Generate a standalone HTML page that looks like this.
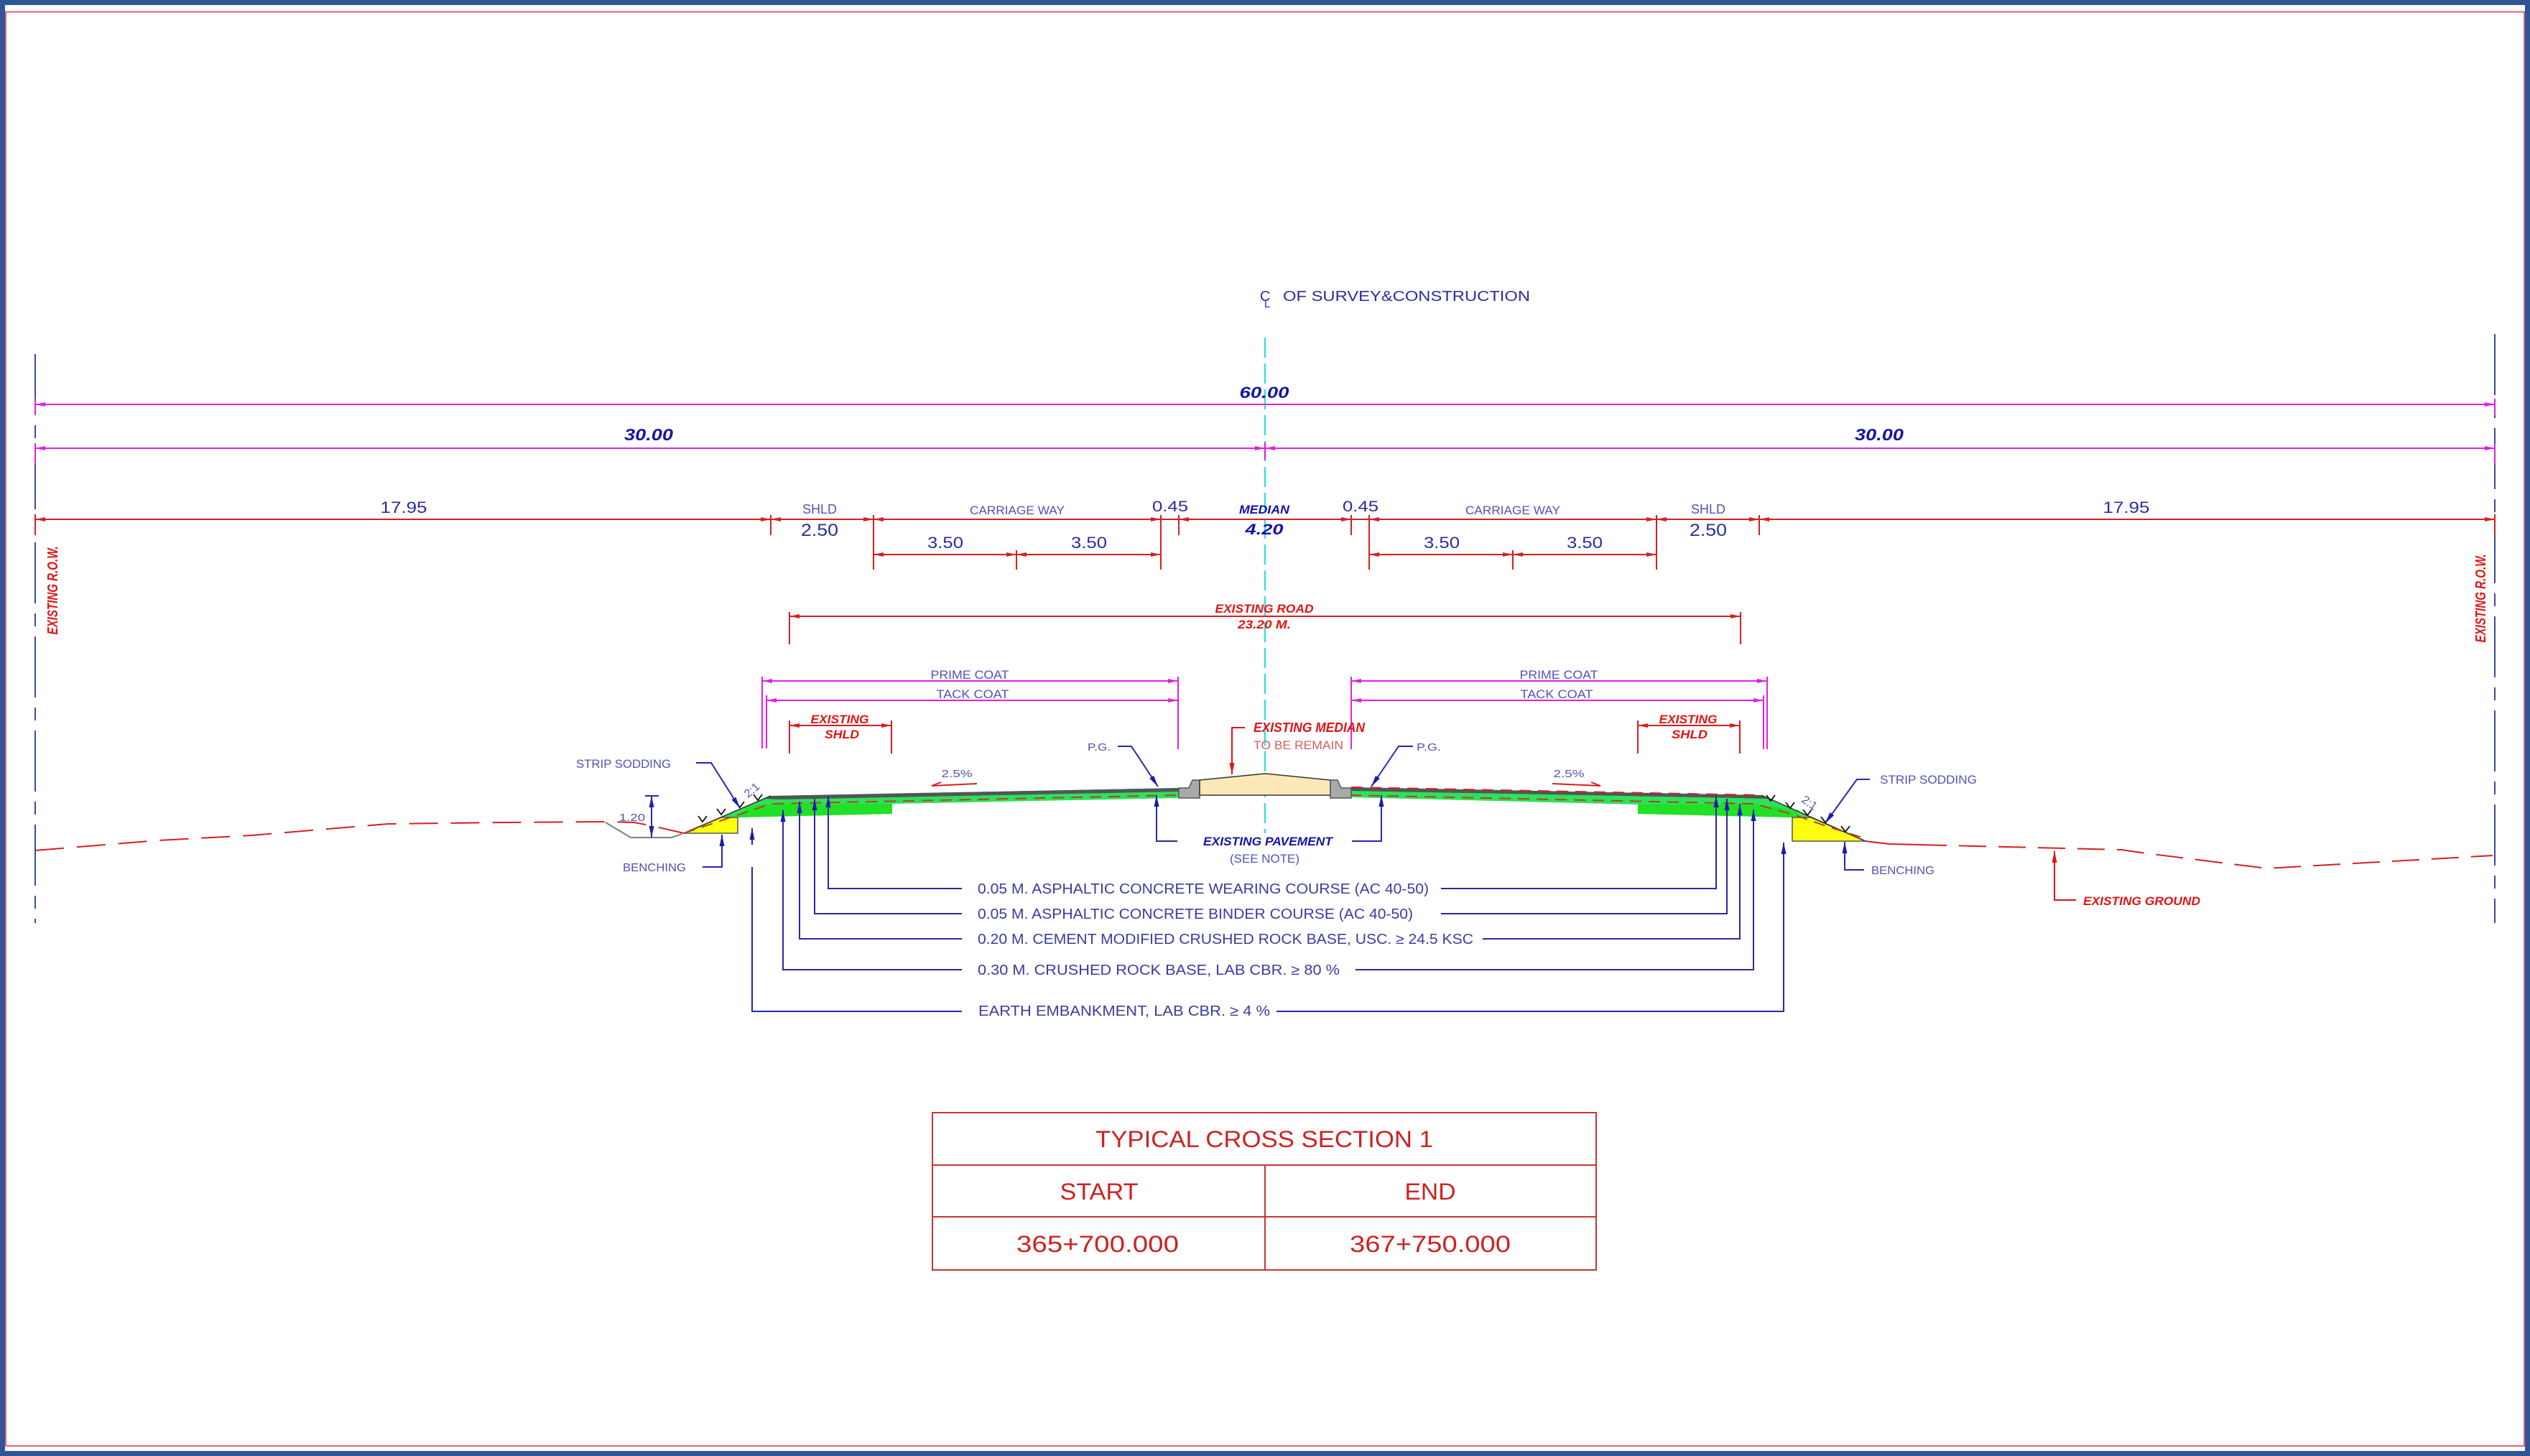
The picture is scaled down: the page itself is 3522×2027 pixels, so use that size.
<!DOCTYPE html>
<html><head><meta charset="utf-8">
<style>
html,body{margin:0;padding:0;background:#fff;}
svg{display:block}
text{font-family:"Liberation Sans",sans-serif;}
.bl{fill:#2b2b9e}
.lb{fill:#5252b2}
.bi{fill:#1414a8;font-weight:bold;font-style:italic}
.ri{fill:#e01414;font-weight:bold;font-style:italic}
.lay{fill:#3b3ba0}
.tb{fill:#cc2222}
</style></head>
<body>
<svg width="3522" height="2027" viewBox="0 0 3522 2027" xmlns="http://www.w3.org/2000/svg">
<defs>
<marker id="ar" viewBox="0 0 14 6" refX="14" refY="3" markerWidth="14" markerHeight="6" markerUnits="userSpaceOnUse" orient="auto-start-reverse"><path d="M0,0L14,3L0,6z" fill="#d42020"/></marker>
<marker id="am" viewBox="0 0 14 6" refX="14" refY="3" markerWidth="14" markerHeight="6" markerUnits="userSpaceOnUse" orient="auto-start-reverse"><path d="M0,0L14,3L0,6z" fill="#e020e0"/></marker>
<marker id="ab" viewBox="0 0 16 7" refX="16" refY="3.5" markerWidth="16" markerHeight="7" markerUnits="userSpaceOnUse" orient="auto-start-reverse"><path d="M0,0L16,3.5L0,7z" fill="#1a1ab0"/></marker>
<marker id="arr" viewBox="0 0 16 7" refX="16" refY="3.5" markerWidth="16" markerHeight="7" markerUnits="userSpaceOnUse" orient="auto-start-reverse"><path d="M0,0L16,3.5L0,7z" fill="#e01414"/></marker>
</defs>

<!-- frame -->
<rect x="0" y="0" width="3522" height="2027" fill="#fff"/>
<rect x="3.5" y="3.5" width="3515" height="2020" fill="none" stroke="#2f5597" stroke-width="7"/>
<polyline points="8,2013 8,16.5 3514,16.5 3514,2013 8,2013" fill="none" stroke="#e0607a" stroke-width="2"/>

<!-- centerline -->
<line x1="1761" y1="470" x2="1761" y2="1160" stroke="#3fdede" stroke-width="2.5" stroke-dasharray="28 8"/>
<text x="1754" y="419" font-size="20" class="bl">C</text>
<text x="1760" y="428" font-size="15" class="bl">L</text>
<text x="1786" y="419" font-size="20" class="bl" textLength="344" lengthAdjust="spacingAndGlyphs">OF SURVEY&amp;CONSTRUCTION</text>

<!-- ROW lines -->
<line x1="49" y1="493" x2="49" y2="1285" stroke="#3a4aa0" stroke-width="2" stroke-dasharray="85 14 18 14"/>
<line x1="3473" y1="465" x2="3473" y2="1285" stroke="#3a4aa0" stroke-width="2" stroke-dasharray="85 14 18 14"/>
<text transform="translate(80,822) rotate(-90)" font-size="20" class="ri" text-anchor="middle" textLength="123" lengthAdjust="spacingAndGlyphs">EXISTING R.O.W.</text>
<text transform="translate(3460,833) rotate(-90)" font-size="20" class="ri" text-anchor="middle" textLength="123" lengthAdjust="spacingAndGlyphs">EXISTING R.O.W.</text>

<!-- magenta dims -->
<g stroke="#e020e0" stroke-width="2" fill="none">
<line x1="49" y1="563" x2="3473" y2="563" marker-start="url(#am)" marker-end="url(#am)"/>
<line x1="49" y1="624" x2="1761" y2="624" marker-start="url(#am)" marker-end="url(#am)"/>
<line x1="1761" y1="624" x2="3473" y2="624" marker-start="url(#am)" marker-end="url(#am)"/>
<line x1="1761" y1="616" x2="1761" y2="640"/>
<line x1="49" y1="555" x2="49" y2="578"/><line x1="49" y1="617" x2="49" y2="647"/>
<line x1="3473" y1="555" x2="3473" y2="578"/><line x1="3473" y1="617" x2="3473" y2="647"/>
<!-- prime / tack -->
<line x1="1061" y1="948" x2="1640" y2="948" marker-start="url(#am)" marker-end="url(#am)"/>
<line x1="1067" y1="975" x2="1640" y2="975" marker-start="url(#am)" marker-end="url(#am)"/>
<line x1="1881" y1="948" x2="2460" y2="948" marker-start="url(#am)" marker-end="url(#am)"/>
<line x1="1881" y1="975" x2="2455" y2="975" marker-start="url(#am)" marker-end="url(#am)"/>
<line x1="1061" y1="942" x2="1061" y2="1042"/>
<line x1="1067" y1="968" x2="1067" y2="1042"/>
<line x1="1640" y1="942" x2="1640" y2="1043"/>
<line x1="1881" y1="942" x2="1881" y2="1043"/>
<line x1="2455" y1="968" x2="2455" y2="1043"/>
<line x1="2460" y1="942" x2="2460" y2="1043"/>
</g>
<text x="1760" y="554" font-size="22" class="bi" text-anchor="middle" textLength="69" lengthAdjust="spacingAndGlyphs">60.00</text>
<text x="903" y="613" font-size="23" class="bi" text-anchor="middle" textLength="68" lengthAdjust="spacingAndGlyphs">30.00</text>
<text x="2616" y="613" font-size="23" class="bi" text-anchor="middle" textLength="68" lengthAdjust="spacingAndGlyphs">30.00</text>

<!-- red dims row 723 -->
<g stroke="#d42020" stroke-width="2" fill="none">
<line x1="49" y1="723" x2="1073" y2="723" marker-start="url(#ar)" marker-end="url(#ar)"/>
<line x1="1073" y1="723" x2="1216" y2="723" marker-start="url(#ar)" marker-end="url(#ar)"/>
<line x1="1216" y1="723" x2="1616" y2="723" marker-start="url(#ar)" marker-end="url(#ar)"/>
<line x1="1616" y1="723" x2="1641" y2="723"/>
<line x1="1641" y1="723" x2="1881" y2="723" marker-start="url(#ar)" marker-end="url(#ar)"/>
<line x1="1881" y1="723" x2="1906" y2="723"/>
<line x1="1906" y1="723" x2="2306" y2="723" marker-start="url(#ar)" marker-end="url(#ar)"/>
<line x1="2306" y1="723" x2="2449" y2="723" marker-start="url(#ar)" marker-end="url(#ar)"/>
<line x1="2449" y1="723" x2="3473" y2="723" marker-start="url(#ar)" marker-end="url(#ar)"/>
<line x1="1073" y1="717" x2="1073" y2="745"/>
<line x1="1216" y1="717" x2="1216" y2="793"/>
<line x1="1616" y1="717" x2="1616" y2="793"/>
<line x1="1641" y1="717" x2="1641" y2="745"/>
<line x1="1881" y1="717" x2="1881" y2="745"/>
<line x1="1906" y1="717" x2="1906" y2="793"/>
<line x1="2306" y1="717" x2="2306" y2="793"/>
<line x1="2449" y1="717" x2="2449" y2="745"/>
<line x1="49" y1="716" x2="49" y2="745"/>
<line x1="3473" y1="716" x2="3473" y2="745"/>
<!-- row 772 -->
<line x1="1216" y1="772" x2="1415" y2="772" marker-start="url(#ar)" marker-end="url(#ar)"/>
<line x1="1415" y1="772" x2="1616" y2="772" marker-start="url(#ar)" marker-end="url(#ar)"/>
<line x1="1906" y1="772" x2="2106" y2="772" marker-start="url(#ar)" marker-end="url(#ar)"/>
<line x1="2106" y1="772" x2="2306" y2="772" marker-start="url(#ar)" marker-end="url(#ar)"/>
<line x1="1415" y1="766" x2="1415" y2="793"/>
<line x1="2106" y1="766" x2="2106" y2="793"/>
<!-- existing road -->
<line x1="1099" y1="858" x2="2423" y2="858" marker-start="url(#ar)" marker-end="url(#ar)"/>
<line x1="1099" y1="852" x2="1099" y2="897"/>
<line x1="2423" y1="852" x2="2423" y2="897"/>
<!-- existing shld -->
<line x1="1099" y1="1010" x2="1241" y2="1010" marker-start="url(#ar)" marker-end="url(#ar)"/>
<line x1="1099" y1="1003" x2="1099" y2="1049"/>
<line x1="1241" y1="1003" x2="1241" y2="1049"/>
<line x1="2280" y1="1010" x2="2422" y2="1010" marker-start="url(#ar)" marker-end="url(#ar)"/>
<line x1="2280" y1="1003" x2="2280" y2="1049"/>
<line x1="2422" y1="1003" x2="2422" y2="1049"/>
</g>

<text x="562" y="714" font-size="22" class="bl" text-anchor="middle" textLength="65" lengthAdjust="spacingAndGlyphs">17.95</text>
<text x="2960" y="714" font-size="22" class="bl" text-anchor="middle" textLength="65" lengthAdjust="spacingAndGlyphs">17.95</text>
<text x="1141" y="715" font-size="18" class="lb" text-anchor="middle" textLength="48" lengthAdjust="spacingAndGlyphs">SHLD</text>
<text x="2378" y="715" font-size="18" class="lb" text-anchor="middle" textLength="48" lengthAdjust="spacingAndGlyphs">SHLD</text>
<text x="1141" y="746" font-size="24" class="bl" text-anchor="middle" textLength="52" lengthAdjust="spacingAndGlyphs">2.50</text>
<text x="2378" y="746" font-size="24" class="bl" text-anchor="middle" textLength="52" lengthAdjust="spacingAndGlyphs">2.50</text>
<text x="1416" y="716" font-size="17" class="lb" text-anchor="middle" textLength="132" lengthAdjust="spacingAndGlyphs">CARRIAGE WAY</text>
<text x="2106" y="716" font-size="17" class="lb" text-anchor="middle" textLength="132" lengthAdjust="spacingAndGlyphs">CARRIAGE WAY</text>
<text x="1316" y="763" font-size="22" class="bl" text-anchor="middle" textLength="50" lengthAdjust="spacingAndGlyphs">3.50</text>
<text x="1516" y="763" font-size="22" class="bl" text-anchor="middle" textLength="50" lengthAdjust="spacingAndGlyphs">3.50</text>
<text x="2007" y="763" font-size="22" class="bl" text-anchor="middle" textLength="50" lengthAdjust="spacingAndGlyphs">3.50</text>
<text x="2206" y="763" font-size="22" class="bl" text-anchor="middle" textLength="50" lengthAdjust="spacingAndGlyphs">3.50</text>
<text x="1629" y="712" font-size="21" class="bl" text-anchor="middle" textLength="50" lengthAdjust="spacingAndGlyphs">0.45</text>
<text x="1894" y="712" font-size="21" class="bl" text-anchor="middle" textLength="50" lengthAdjust="spacingAndGlyphs">0.45</text>
<text x="1760" y="715" font-size="17" class="bi" text-anchor="middle" textLength="70" lengthAdjust="spacingAndGlyphs">MEDIAN</text>
<text x="1760" y="744" font-size="21" class="bi" text-anchor="middle" textLength="53" lengthAdjust="spacingAndGlyphs">4.20</text>

<text x="1760" y="853" font-size="17" class="ri" text-anchor="middle" textLength="137" lengthAdjust="spacingAndGlyphs">EXISTING ROAD</text>
<text x="1760" y="875" font-size="17" class="ri" text-anchor="middle" textLength="74" lengthAdjust="spacingAndGlyphs">23.20 M.</text>

<text x="1350" y="945" font-size="17" class="lb" text-anchor="middle" textLength="109" lengthAdjust="spacingAndGlyphs">PRIME COAT</text>
<text x="1354" y="972" font-size="17" class="lb" text-anchor="middle" textLength="101" lengthAdjust="spacingAndGlyphs">TACK COAT</text>
<text x="2170" y="945" font-size="17" class="lb" text-anchor="middle" textLength="109" lengthAdjust="spacingAndGlyphs">PRIME COAT</text>
<text x="2167" y="972" font-size="17" class="lb" text-anchor="middle" textLength="101" lengthAdjust="spacingAndGlyphs">TACK COAT</text>

<text x="1169" y="1007" font-size="17" class="ri" text-anchor="middle" textLength="81" lengthAdjust="spacingAndGlyphs">EXISTING</text>
<text x="1172" y="1028" font-size="17" class="ri" text-anchor="middle" textLength="48" lengthAdjust="spacingAndGlyphs">SHLD</text>
<text x="2350" y="1007" font-size="17" class="ri" text-anchor="middle" textLength="81" lengthAdjust="spacingAndGlyphs">EXISTING</text>
<text x="2352" y="1028" font-size="17" class="ri" text-anchor="middle" textLength="50" lengthAdjust="spacingAndGlyphs">SHLD</text>

<!-- ground lines -->
<polyline points="49,1184 220,1170 350,1163 540,1147 700,1145 843,1144 883,1145 909,1150 952,1160" fill="none" stroke="#d42020" stroke-width="2" stroke-dasharray="40 18"/>
<polyline points="843,1145 878,1166 935,1166 949,1161" fill="none" stroke="#808080" stroke-width="2"/>
<polyline points="2597,1171 2630,1175 2672,1176" fill="none" stroke="#d42020" stroke-width="2"/>
<polyline points="2672,1176 2953,1183 2988,1188 3156,1209 3260,1203 3470,1191" fill="none" stroke="#d42020" stroke-width="2" stroke-dasharray="38 17"/>

<!-- left pavement -->
<polygon points="1004,1138 1073,1108 1641,1097 1641,1111 1242,1119 1242,1133 1027,1138" fill="#2ee05a"/>
<polygon points="1242,1119 1242,1133 1027,1138 1040,1122 1073,1119" fill="#22e025"/>
<polygon points="1066,1112 1073,1108 1641,1097 1641,1102 1085,1113" fill="#4e5858"/>
<polygon points="952,1160 1027,1160 1027,1138 1004,1138" fill="#ffff10" stroke="#555" stroke-width="1.5"/>
<line x1="952" y1="1160" x2="1073" y2="1108" stroke="#333" stroke-width="1.5"/>
<polyline points="952,1160 1073,1119 1641,1107" fill="none" stroke="#b0452a" stroke-width="2" stroke-dasharray="16 10"/>

<!-- right pavement -->
<polygon points="1881,1096 2452,1107 2521,1138 2495,1138 2280,1133 2280,1120 1881,1110" fill="#2ee05a"/>
<polygon points="2280,1120 2280,1133 2495,1138 2505,1128 2440,1119" fill="#22e025"/>
<polygon points="1881,1096 2452,1107 2462,1112 2420,1111 1881,1101" fill="#4e5858"/>
<polyline points="1881,1096 2452,1107" fill="none" stroke="#d42020" stroke-width="2" stroke-dasharray="16 10"/>
<polygon points="2495,1138 2521,1138 2597,1171 2495,1171" fill="#ffff10" stroke="#555" stroke-width="1.5"/>
<line x1="2452" y1="1107" x2="2597" y2="1171" stroke="#333" stroke-width="1.5"/>
<path d="M2590,1165 Q2540,1150 2500,1135 L2442,1119 L1881,1107" fill="none" stroke="#b0452a" stroke-width="2" stroke-dasharray="16 10"/>

<!-- median -->
<polygon points="1641,1097 1655,1097 1660,1086 1670,1086 1670,1111 1641,1111" fill="#a9a9a9" stroke="#555" stroke-width="1.5"/>
<polygon points="1670,1086 1761,1077 1852,1086 1852,1107 1670,1107" fill="#fde9b8" stroke="#333" stroke-width="1.5"/>
<polygon points="1852,1086 1862,1086 1867,1097 1881,1097 1881,1111 1852,1111" fill="#a9a9a9" stroke="#555" stroke-width="1.5"/>

<!-- sodding chevrons -->
<g stroke="#111" stroke-width="1.8" fill="none">
<path d="M972,1136 L978,1144 L984,1136"/>
<path d="M998,1126 L1004,1134 L1010,1126"/>
<path d="M1024,1116 L1030,1124 L1036,1116"/>
<path d="M1049,1106 L1055,1114 L1061,1106"/>
<path d="M2459,1107 L2465,1115 L2471,1107"/>
<path d="M2486,1117 L2492,1125 L2498,1117"/>
<path d="M2510,1127 L2516,1135 L2522,1127"/>
<path d="M2535,1137 L2541,1145 L2547,1137"/>
<path d="M2563,1150 L2569,1158 L2575,1150"/>
</g>

<!-- blue leaders -->
<g stroke="#2828a8" stroke-width="2" fill="none">
<polyline points="1153,1108 1153,1237 1339,1237" marker-start="url(#ab)"/>
<polyline points="1134,1112 1134,1272 1339,1272" marker-start="url(#ab)"/>
<polyline points="1113,1116 1113,1307 1339,1307" marker-start="url(#ab)"/>
<polyline points="1090,1128 1090,1350 1339,1350" marker-start="url(#ab)"/>
<line x1="1047" y1="1176" x2="1047" y2="1153" marker-end="url(#ab)"/>
<polyline points="1047,1207 1047,1408 1339,1408"/>
<polyline points="2389,1108 2389,1237 2006,1237" marker-start="url(#ab)"/>
<polyline points="2404,1112 2404,1272 2006,1272" marker-start="url(#ab)"/>
<polyline points="2422,1119 2422,1307 2064,1307" marker-start="url(#ab)"/>
<polyline points="2441,1127 2441,1350 1887,1350" marker-start="url(#ab)"/>
<polyline points="2483,1173 2483,1408 1777,1408" marker-start="url(#ab)"/>
<!-- existing pavement -->
<polyline points="1639,1171 1610,1171 1610,1107" marker-end="url(#ab)"/>
<polyline points="1882,1171 1923,1171 1923,1107" marker-end="url(#ab)"/>
<!-- PG -->
<polyline points="1556,1039 1575,1039 1612,1095" marker-end="url(#ab)"/>
<polyline points="1967,1039 1947,1039 1909,1095" marker-end="url(#ab)"/>
<!-- strip sodding -->
<polyline points="969,1062 990,1062 1030,1125" marker-end="url(#ab)"/>
<polyline points="2603,1085 2585,1085 2541,1146" marker-end="url(#ab)"/>
<!-- benching -->
<polyline points="978,1207 1005,1207 1005,1162" marker-end="url(#ab)"/>
<polyline points="2595,1211 2568,1211 2568,1172" marker-end="url(#ab)"/>
<!-- 1.20 -->
<line x1="907" y1="1124" x2="907" y2="1108" marker-end="url(#ab)"/>
<line x1="907" y1="1150" x2="907" y2="1166" marker-end="url(#ab)"/>
<line x1="907" y1="1108" x2="907" y2="1166"/>
<line x1="898" y1="1108" x2="917" y2="1108"/>
</g>
<!-- slope arrows 2.5% -->
<g stroke="#d42020" stroke-width="2" fill="none">
<line x1="1360" y1="1091" x2="1297" y2="1094"/>
<path d="M1297,1094 L1310,1089"/>
<line x1="2161" y1="1091" x2="2228" y2="1094"/>
<path d="M2228,1094 L2215,1089"/>
</g>
<text x="1332" y="1082" font-size="15" class="lb" text-anchor="middle" textLength="43" lengthAdjust="spacingAndGlyphs">2.5%</text>
<text x="2184" y="1082" font-size="15" class="lb" text-anchor="middle" textLength="43" lengthAdjust="spacingAndGlyphs">2.5%</text>

<!-- red median leader -->
<polyline points="1733,1013 1715,1013 1715,1078" fill="none" stroke="#e01414" stroke-width="2" marker-end="url(#arr)"/>
<text x="1745" y="1019" font-size="18" class="ri" textLength="155" lengthAdjust="spacingAndGlyphs">EXISTING MEDIAN</text>
<text x="1745" y="1043" font-size="17" fill="#d06060" textLength="125" lengthAdjust="spacingAndGlyphs">TO BE REMAIN</text>

<text x="1675" y="1177" font-size="17" class="bi" textLength="180" lengthAdjust="spacingAndGlyphs">EXISTING PAVEMENT</text>
<text x="1712" y="1201" font-size="17" class="lb" textLength="97" lengthAdjust="spacingAndGlyphs">(SEE NOTE)</text>

<text x="1514" y="1045" font-size="15" class="lb" textLength="32" lengthAdjust="spacingAndGlyphs">P.G.</text>
<text x="1972" y="1045" font-size="15" class="lb" textLength="34" lengthAdjust="spacingAndGlyphs">P.G.</text>

<text x="802" y="1069" font-size="17" class="lb" textLength="132" lengthAdjust="spacingAndGlyphs">STRIP SODDING</text>
<text x="2617" y="1091" font-size="17" class="lb" textLength="135" lengthAdjust="spacingAndGlyphs">STRIP SODDING</text>
<text x="867" y="1213" font-size="16" class="lb" textLength="88" lengthAdjust="spacingAndGlyphs">BENCHING</text>
<text x="2605" y="1217" font-size="16" class="lb" textLength="88" lengthAdjust="spacingAndGlyphs">BENCHING</text>
<text x="862" y="1143" font-size="15" class="lb" textLength="36" lengthAdjust="spacingAndGlyphs">1.20</text>
<text transform="translate(1050,1104) rotate(-40)" font-size="16" class="lb" text-anchor="middle">2:1</text>
<text transform="translate(2516,1122) rotate(35)" font-size="16" class="lb" text-anchor="middle">2:1</text>

<!-- existing ground -->
<polyline points="2890,1253 2860,1253 2860,1185" fill="none" stroke="#e01414" stroke-width="2" marker-end="url(#arr)"/>
<text x="2900" y="1260" font-size="17" class="ri" textLength="163" lengthAdjust="spacingAndGlyphs">EXISTING GROUND</text>

<!-- layer labels -->
<text x="1361" y="1244" font-size="20" class="lay" textLength="628" lengthAdjust="spacingAndGlyphs">0.05 M. ASPHALTIC CONCRETE WEARING COURSE (AC 40-50)</text>
<text x="1361" y="1279" font-size="20" class="lay" textLength="606" lengthAdjust="spacingAndGlyphs">0.05 M. ASPHALTIC CONCRETE BINDER COURSE (AC 40-50)</text>
<text x="1361" y="1314" font-size="20" class="lay" textLength="690" lengthAdjust="spacingAndGlyphs">0.20 M. CEMENT MODIFIED CRUSHED ROCK BASE, USC. ≥ 24.5 KSC</text>
<text x="1361" y="1357" font-size="20" class="lay" textLength="504" lengthAdjust="spacingAndGlyphs">0.30 M. CRUSHED ROCK BASE,  LAB CBR. ≥ 80 %</text>
<text x="1362" y="1414" font-size="20" class="lay" textLength="406" lengthAdjust="spacingAndGlyphs">EARTH EMBANKMENT,  LAB CBR. ≥ 4 %</text>

<!-- table -->
<g stroke="#cc3333" stroke-width="2" fill="none">
<rect x="1298" y="1549" width="924" height="219"/>
<line x1="1298" y1="1622" x2="2222" y2="1622"/>
<line x1="1298" y1="1694" x2="2222" y2="1694"/>
<line x1="1761" y1="1622" x2="1761" y2="1768"/>
</g>
<text x="1760" y="1597" font-size="32" class="tb" text-anchor="middle" textLength="470" lengthAdjust="spacingAndGlyphs">TYPICAL CROSS SECTION 1</text>
<text x="1530" y="1670" font-size="32" class="tb" text-anchor="middle" textLength="109" lengthAdjust="spacingAndGlyphs">START</text>
<text x="1991" y="1670" font-size="32" class="tb" text-anchor="middle" textLength="71" lengthAdjust="spacingAndGlyphs">END</text>
<text x="1528" y="1743" font-size="32" class="tb" text-anchor="middle" textLength="226" lengthAdjust="spacingAndGlyphs">365+700.000</text>
<text x="1991" y="1743" font-size="32" class="tb" text-anchor="middle" textLength="224" lengthAdjust="spacingAndGlyphs">367+750.000</text>
</svg>
</body></html>
